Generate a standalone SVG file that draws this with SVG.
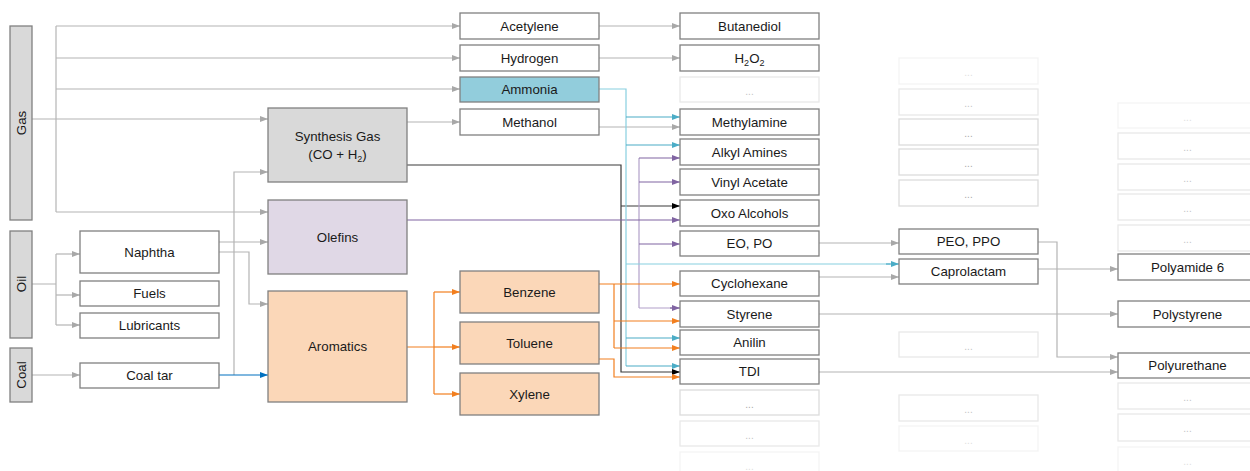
<svg xmlns="http://www.w3.org/2000/svg" width="1250" height="471" viewBox="0 0 1250 471">
<defs>
<style>
text{font-family:"Liberation Sans",Arial,sans-serif;font-size:13.3px;fill:#1a1a1a;text-anchor:middle}
.b{fill:#fff;stroke:#808080;stroke-width:1.3}
.grey{fill:#d9d9d9;stroke:#808080;stroke-width:1.3}
.ole{fill:#e0d8e6;stroke:#808080;stroke-width:1.3}
.aro{fill:#fbd7b8;stroke:#808080;stroke-width:1.3}
.amm{fill:#92cddc;stroke:#808080;stroke-width:1.3}
.f1{fill:#fff;stroke:#dcdcdc;stroke-width:1.3}
.f2{fill:#fff;stroke:#e9e9e9;stroke-width:1.3}
.f3{fill:#fff;stroke:#f4f4f4;stroke-width:1.3}
.d1{fill:#a8a8a8;font-size:10px}
.d2{fill:#c4c4c4;font-size:10px}
.d3{fill:#e0e0e0;font-size:10px}
.c{fill:none;stroke-width:1.2}
.g{stroke:#b4b4b4}
.bl{stroke:#0070c0}
.k{stroke:#3a3a3a}
.p{stroke:#8064a2}
.pl{stroke:#b1a0c9}
.t{stroke:#4bacc6}
.tl{stroke:#88cfe0}
.o{stroke:#f27f1f}
</style>
<marker id="ag" markerUnits="userSpaceOnUse" markerWidth="8" markerHeight="6" refX="8" refY="3" orient="auto"><path d="M0,0L8,3L0,6z" fill="#a8a8a8"/></marker>
<marker id="ab" markerUnits="userSpaceOnUse" markerWidth="8" markerHeight="6" refX="8" refY="3" orient="auto"><path d="M0,0L8,3L0,6z" fill="#0070c0"/></marker>
<marker id="ak" markerUnits="userSpaceOnUse" markerWidth="8" markerHeight="6" refX="8" refY="3" orient="auto"><path d="M0,0L8,3L0,6z" fill="#000"/></marker>
<marker id="ap" markerUnits="userSpaceOnUse" markerWidth="8" markerHeight="6" refX="8" refY="3" orient="auto"><path d="M0,0L8,3L0,6z" fill="#8064a2"/></marker>
<marker id="at" markerUnits="userSpaceOnUse" markerWidth="8" markerHeight="6" refX="8" refY="3" orient="auto"><path d="M0,0L8,3L0,6z" fill="#4bacc6"/></marker>
<marker id="ao" markerUnits="userSpaceOnUse" markerWidth="8" markerHeight="6" refX="8" refY="3" orient="auto"><path d="M0,0L8,3L0,6z" fill="#f27f1f"/></marker>
</defs>
<rect width="1250" height="471" fill="#fff"/>

<g id="connectors">
<!-- grey -->
<path class="c g" d="M56,26V212"/>
<path class="c g" d="M32,119H268" marker-end="url(#ag)"/>
<path class="c g" d="M56,26H460" marker-end="url(#ag)"/>
<path class="c g" d="M56,58H460" marker-end="url(#ag)"/>
<path class="c g" d="M56,89H460" marker-end="url(#ag)"/>
<path class="c g" d="M56,212H268" marker-end="url(#ag)"/>
<path class="c g" d="M32,284H56M56,254V325"/>
<path class="c g" d="M56,254H80" marker-end="url(#ag)"/>
<path class="c g" d="M56,295H80" marker-end="url(#ag)"/>
<path class="c g" d="M56,325H80" marker-end="url(#ag)"/>
<path class="c g" d="M32,375H80" marker-end="url(#ag)"/>
<path class="c g" d="M234,375V172H268" marker-end="url(#ag)"/>
<path class="c g" d="M219,242H268" marker-end="url(#ag)"/>
<path class="c g" d="M219,252H249V304H268" marker-end="url(#ag)"/>
<path class="c g" d="M407,122H460" marker-end="url(#ag)"/>
<path class="c g" d="M599,26H680" marker-end="url(#ag)"/>
<path class="c g" d="M599,58H680" marker-end="url(#ag)"/>
<path class="c g" d="M599,127H680" marker-end="url(#ag)"/>
<path class="c g" d="M819,243H899" marker-end="url(#ag)"/>
<path class="c g" d="M819,277H899" marker-end="url(#ag)"/>
<path class="c g" d="M819,314H1118" marker-end="url(#ag)"/>
<path class="c g" d="M819,372H1118" marker-end="url(#ag)"/>
<path class="c g" d="M1038,242H1057V357H1118" marker-end="url(#ag)"/>
<path class="c g" d="M1038,269H1118" marker-end="url(#ag)"/>
<!-- blue -->
<path class="c bl" d="M219,375H268" marker-end="url(#ab)"/>
<!-- black -->
<path class="c k" d="M407,165H621V372H680" marker-end="url(#ak)"/>
<path class="c k" d="M621,206H680" marker-end="url(#ak)"/>
<!-- purple -->
<path class="c pl" d="M639,158V308"/>
<path class="c p" d="M407,220H680" marker-end="url(#ap)"/>
<path class="c p" d="M639,158H680" marker-end="url(#ap)"/>
<path class="c p" d="M639,182H680" marker-end="url(#ap)"/>
<path class="c p" d="M639,244H680" marker-end="url(#ap)"/>
<path class="c pl" d="M639,308H672"/>
<path class="c p" d="M670,308H680" marker-end="url(#ap)"/>
<!-- teal -->
<path class="c tl" d="M599,89H626V366"/>
<path class="c t" d="M626,117H680" marker-end="url(#at)"/>
<path class="c t" d="M626,145H680" marker-end="url(#at)"/>
<path class="c tl" d="M626,264H890"/>
<path class="c t" d="M886,264H899" marker-end="url(#at)"/>
<path class="c t" d="M626,338H680" marker-end="url(#at)"/>
<path class="c t" d="M626,366H680" marker-end="url(#at)"/>
<!-- orange -->
<path class="c o" d="M407,347H434M434,292V394"/>
<path class="c o" d="M434,292H460" marker-end="url(#ao)"/>
<path class="c o" d="M434,347H460" marker-end="url(#ao)"/>
<path class="c o" d="M434,394H460" marker-end="url(#ao)"/>
<path class="c o" d="M599,284H680" marker-end="url(#ao)"/>
<path class="c o" d="M614,284V348"/>
<path class="c o" d="M614,321H680" marker-end="url(#ao)"/>
<path class="c o" d="M614,348H680" marker-end="url(#ao)"/>
<path class="c o" d="M599,359H614V377H680" marker-end="url(#ao)"/>
</g>

<!-- sources -->
<g id="gas"><rect class="grey" x="10" y="26" width="22" height="194"/><text transform="translate(26,123) rotate(-90)">Gas</text></g>
<g id="oil"><rect class="grey" x="10" y="231" width="22" height="107"/><text transform="translate(26,284) rotate(-90)">Oil</text></g>
<g id="coal"><rect class="grey" x="10" y="348" width="22" height="54"/><text transform="translate(26,375) rotate(-90)">Coal</text></g>

<!-- column 2 -->
<g id="naphtha"><rect class="b" x="80" y="231" width="139" height="42"/><text x="149.5" y="256.5">Naphtha</text></g>
<g id="fuels"><rect class="b" x="80" y="281" width="139" height="25"/><text x="149.5" y="297.5">Fuels</text></g>
<g id="lubricants"><rect class="b" x="80" y="313" width="139" height="25"/><text x="149.5" y="329.5">Lubricants</text></g>
<g id="coaltar"><rect class="b" x="80" y="363" width="139" height="25"/><text x="149.5" y="379.5">Coal tar</text></g>

<!-- column 3 -->
<g id="synthesis-gas"><rect class="grey" x="268" y="108" width="139" height="74"/><text x="337.5" y="141">Synthesis Gas</text><text x="337.5" y="159">(CO + H<tspan font-size="9" dy="3">2</tspan><tspan dy="-3">)</tspan></text></g>
<g id="olefins"><rect class="ole" x="268" y="200" width="139" height="74"/><text x="337.5" y="241.5">Olefins</text></g>
<g id="aromatics"><rect class="aro" x="268" y="291" width="139" height="111"/><text x="337.5" y="351">Aromatics</text></g>

<!-- column 4 -->
<g id="acetylene"><rect class="b" x="460" y="13" width="139" height="26"/><text x="529.5" y="30.5">Acetylene</text></g>
<g id="hydrogen"><rect class="b" x="460" y="45" width="139" height="26"/><text x="529.5" y="62.5">Hydrogen</text></g>
<g id="ammonia"><rect class="amm" x="460" y="77" width="139" height="25"/><text x="529.5" y="93.5">Ammonia</text></g>
<g id="methanol"><rect class="b" x="460" y="109" width="139" height="26"/><text x="529.5" y="126.5">Methanol</text></g>
<g id="benzene"><rect class="aro" x="460" y="271" width="139" height="42"/><text x="529.5" y="296.5">Benzene</text></g>
<g id="toluene"><rect class="aro" x="460" y="322" width="139" height="42"/><text x="529.5" y="347.5">Toluene</text></g>
<g id="xylene"><rect class="aro" x="460" y="373" width="139" height="42"/><text x="529.5" y="398.5">Xylene</text></g>

<!-- column 5 -->
<g id="butanediol"><rect class="b" x="680" y="13" width="139" height="26"/><text x="749.5" y="30.5">Butanediol</text></g>
<g id="h2o2"><rect class="b" x="680" y="45" width="139" height="26"/><text x="749.5" y="62.5">H<tspan font-size="9" dy="3">2</tspan><tspan dy="-3">O</tspan><tspan font-size="9" dy="3">2</tspan></text></g>
<g id="c5-more1"><rect class="f2" x="680" y="77" width="139" height="25"/><text class="d2" x="749.5" y="95">...</text></g>
<g id="methylamine"><rect class="b" x="680" y="109" width="139" height="26"/><text x="749.5" y="126.5">Methylamine</text></g>
<g id="alkylamines"><rect class="b" x="680" y="139" width="139" height="26"/><text x="749.5" y="156.5">Alkyl Amines</text></g>
<g id="vinylacetate"><rect class="b" x="680" y="169" width="139" height="26"/><text x="749.5" y="186.5">Vinyl Acetate</text></g>
<g id="oxoalcohols"><rect class="b" x="680" y="200" width="139" height="26"/><text x="749.5" y="217.5">Oxo Alcohols</text></g>
<g id="eopo"><rect class="b" x="680" y="231" width="139" height="25"/><text x="749.5" y="247.5">EO, PO</text></g>
<g id="cyclohexane"><rect class="b" x="680" y="271" width="139" height="25"/><text x="749.5" y="287.5">Cyclohexane</text></g>
<g id="styrene"><rect class="b" x="680" y="301" width="139" height="26"/><text x="749.5" y="318.5">Styrene</text></g>
<g id="anilin"><rect class="b" x="680" y="330" width="139" height="25"/><text x="749.5" y="346.5">Anilin</text></g>
<g id="tdi"><rect class="b" x="680" y="359" width="139" height="25"/><text x="749.5" y="375.5">TDI</text></g>
<g id="c5-more2"><rect class="f1" x="680" y="390" width="139" height="25"/><text class="d1" x="749.5" y="408">...</text></g>
<g id="c5-more3"><rect class="f2" x="680" y="421" width="139" height="25"/><text class="d2" x="749.5" y="439">...</text></g>
<g id="c5-more4"><rect class="f3" x="680" y="452" width="139" height="25"/><text class="d3" x="749.5" y="470">...</text></g>

<!-- column 6 -->
<g id="c6-more1"><rect class="f3" x="899" y="58" width="139" height="26"/><text class="d3" x="968.5" y="76">...</text></g>
<g id="c6-more2"><rect class="f2" x="899" y="89" width="139" height="26"/><text class="d2" x="968.5" y="107">...</text></g>
<g id="c6-more3"><rect class="f1" x="899" y="119" width="139" height="26"/><text class="d1" x="968.5" y="137">...</text></g>
<g id="c6-more4"><rect class="f1" x="899" y="149" width="139" height="26"/><text class="d1" x="968.5" y="167">...</text></g>
<g id="c6-more5"><rect class="f1" x="899" y="180" width="139" height="26"/><text class="d1" x="968.5" y="198">...</text></g>
<g id="peoppo"><rect class="b" x="899" y="229" width="139" height="25"/><text x="968.5" y="245.5">PEO, PPO</text></g>
<g id="caprolactam"><rect class="b" x="899" y="259" width="139" height="25"/><text x="968.5" y="275.5">Caprolactam</text></g>
<g id="c6-more6"><rect class="f2" x="899" y="332" width="139" height="25"/><text class="d2" x="968.5" y="350">...</text></g>
<g id="c6-more7"><rect class="f2" x="899" y="395" width="139" height="26"/><text class="d2" x="968.5" y="413">...</text></g>
<g id="c6-more8"><rect class="f3" x="899" y="426" width="139" height="25"/><text class="d3" x="968.5" y="444">...</text></g>

<!-- column 7 -->
<g id="c7-more1"><rect class="f3" x="1118" y="103" width="139" height="25"/><text class="d3" x="1187.5" y="121">...</text></g>
<g id="c7-more2"><rect class="f2" x="1118" y="133" width="139" height="26"/><text class="d2" x="1187.5" y="151">...</text></g>
<g id="c7-more3"><rect class="f2" x="1118" y="164" width="139" height="26"/><text class="d2" x="1187.5" y="182">...</text></g>
<g id="c7-more4"><rect class="f2" x="1118" y="194" width="139" height="26"/><text class="d2" x="1187.5" y="212">...</text></g>
<g id="c7-more5"><rect class="f2" x="1118" y="225" width="139" height="26"/><text class="d2" x="1187.5" y="243">...</text></g>
<g id="polyamide6"><rect class="b" x="1118" y="254" width="139" height="26"/><text x="1187.5" y="271.5">Polyamide 6</text></g>
<g id="polystyrene"><rect class="b" x="1118" y="301" width="139" height="26"/><text x="1187.5" y="318.5">Polystyrene</text></g>
<g id="polyurethane"><rect class="b" x="1118" y="353" width="139" height="25"/><text x="1187.5" y="369.5">Polyurethane</text></g>
<g id="c7-more6"><rect class="f2" x="1118" y="383" width="139" height="26"/><text class="d2" x="1187.5" y="401">...</text></g>
<g id="c7-more7"><rect class="f2" x="1118" y="414" width="139" height="27"/><text class="d2" x="1187.5" y="432">...</text></g>
<g id="c7-more8"><rect class="f3" x="1118" y="447" width="139" height="25"/><text class="d3" x="1187.5" y="465">...</text></g>
</svg>
